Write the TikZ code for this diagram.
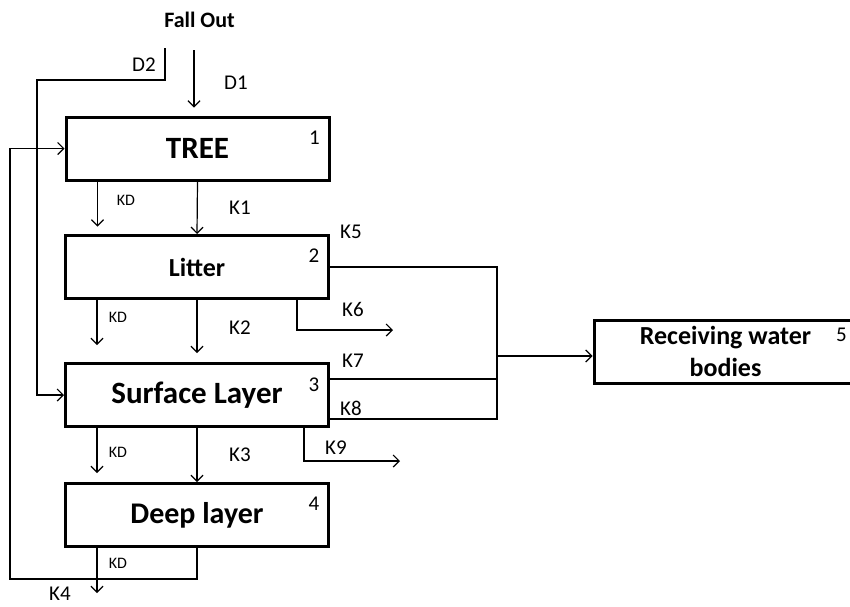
\documentclass[tikz,border=0pt]{standalone}
\usepackage{fontspec}
\setmainfont{Carlito}
\usetikzlibrary{arrows.meta}

\begin{document}
\begin{tikzpicture}[>={Straight Barb[length=6pt,width=12pt]},x=1pt,y=1pt,
	box/.style={draw,line width=3pt,minimum width=263pt,minimum height=63pt,inner sep=0pt,font=\fontsize{31}{34}\selectfont\bfseries},
	lbl/.style={inner sep=0pt,font=\fontsize{21}{24}\selectfont},
	kd/.style={inner sep=0pt,font=\fontsize{16}{18}\selectfont},
	flow/.style={line width=1.2pt}]
	\useasboundingbox (0,0) rectangle (850,-606);
	% compartments
	\node[box] (tree) at (197.5,-148.5) {TREE};
	\node[box,font=\fontsize{26}{30}\selectfont\bfseries] (litter) at (197,-267) {Litter};
	\node[box] (surf) at (197,-395) {Surface Layer};
	\node[box,font=\fontsize{30}{34}\selectfont\bfseries] (deep) at (197,-515) {Deep layer};
	\node[box,align=center,font=\fontsize{26}{32}\selectfont\bfseries] (water) at (725.5,-351.5) {Receiving water\\bodies};
	\node[lbl] (n1) at ([xshift=-16pt,yshift=-22pt]tree.north east) {1};
	\node[lbl] (n2) at ([xshift=-16pt,yshift=-22pt]litter.north east) {2};
	\node[lbl] (n3) at ([xshift=-16pt,yshift=-23pt]surf.north east) {3};
	\node[lbl] (n4) at ([xshift=-16pt,yshift=-22pt]deep.north east) {4};
	\node[lbl] (n5) at ([xshift=-17pt,yshift=-16pt]water.north east) {5};
	% input
	\node[lbl,font=\fontsize{22}{24}\selectfont\bfseries] (fall) at (199.5,-20) {Fall Out};
	\coordinate (d1top) at (194,-50);
	\coordinate (d2top) at (165,-48);
	\coordinate (d2turn) at (37,-80);
	\coordinate (k4turn) at (10,-579);
	\coordinate (jn) at (497,-356);
	\draw[flow,->,shorten >=8pt] (d1top) -- (d1top |- tree.north);
	\draw[flow,->] (d2top) |- (d2turn) |- (surf.west);
	\draw[flow,->] (deep.south) |- (k4turn) |- (tree.west);
	\node[lbl] (ld1) at (236,-83) {D1};
	\node[lbl] (ld2) at (144,-65) {D2};
	\node[lbl] (lk4) at (60,-594) {K4};
	% downward fluxes
	\draw[flow,->] (tree.south) -- (litter.north);
	\draw[flow,->,shorten >=9pt] (litter.south) -- (surf.north);
	\draw[flow,->] (surf.south) -- (deep.north);
	\foreach \b in {tree,litter,surf,deep}
		\draw[flow,->] ([xshift=-100pt]\b.south) -- ++(0,-45);
	\node[kd] (kd1) at (126,-200) {KD};
	\node[kd] (kd2) at (118,-317) {KD};
	\node[kd] (kd3) at (118,-452) {KD};
	\node[kd] (kd4) at (118,-563) {KD};
	\node[lbl] (lk1) at (240,-208) {K1};
	\node[lbl] (lk2) at (240,-328) {K2};
	\node[lbl] (lk3) at (240,-455) {K3};
	% losses
	\draw[flow,->] ([xshift=100pt]litter.south) -- ++(0,-30) -- ++(96,0);
	\draw[flow,->] ([xshift=107pt]surf.south) -- ++(0,-33) -- ++(96,0);
	\node[lbl] (lk6) at (353,-309) {K6};
	\node[lbl] (lk9) at (336,-448) {K9};
	% to receiving water
	\draw[flow] (litter.east) -| (jn);
	\draw[flow] ([yshift=16pt]surf.east) -| (jn);
	\draw[flow] ([yshift=-24pt]surf.east) -| (jn);
	\draw[flow,->] (jn) -- (jn -| water.west);
	\node[lbl] (lk5) at (351,-232) {K5};
	\node[lbl] (lk7) at (353,-361) {K7};
	\node[lbl] (lk8) at (351,-408) {K8};
\end{tikzpicture}
\end{document}
